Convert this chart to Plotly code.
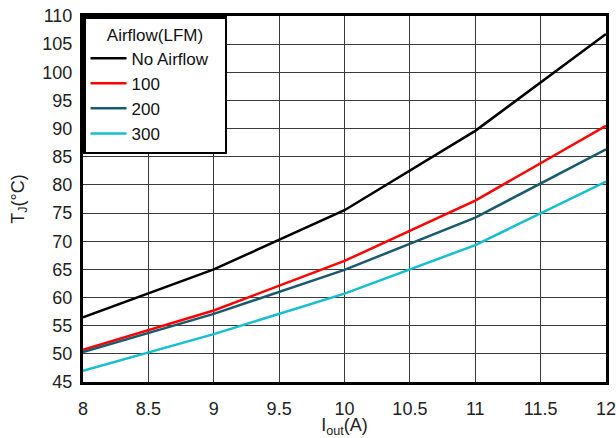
import plotly.graph_objects as go

iout = [8, 9, 10, 11, 12]
no_airflow = [56.5, 65.0, 75.5, 89.6, 106.8]
lfm100 = [50.7, 57.7, 66.5, 77.2, 90.5]
lfm200 = [50.3, 57.1, 64.9, 74.2, 86.3]
lfm300 = [47.0, 53.5, 60.7, 69.3, 80.6]

series = [
    ("No Airflow", no_airflow, "#000000"),
    ("100", lfm100, "#ff0000"),
    ("200", lfm200, "#1a5a6e"),
    ("300", lfm300, "#17becf"),
]

fig = go.Figure()
for name, ys, col in series:
    fig.add_trace(go.Scatter(x=iout, y=ys, mode="lines", name=name,
                             line=dict(color=col, width=2.5)))

font = "Liberation Sans, Arial, sans-serif"
fs = 18
lfs = 17
pad = "\u00a0" * 4
fig.update_layout(
    width=616, height=438,
    margin=dict(l=83, r=10, t=16, b=56),
    paper_bgcolor="white", plot_bgcolor="white",
    font=dict(family=font, size=fs, color="#222222"),
    showlegend=True,
    legend=dict(
        x=0, y=1, xanchor="left", yanchor="top",
        bgcolor="white", bordercolor="black", borderwidth=2.5,
        title=dict(text=pad + "Airflow(LFM)" + pad, side="top center",
                   font=dict(size=lfs, color="#111111")),
        font=dict(size=lfs, color="#111111"),
        itemwidth=36, tracegroupgap=0,
    ),
    xaxis=dict(
        range=[8, 12], dtick=0.5, tick0=8, automargin=False,
        ticklabeloverflow="allow",
        showgrid=True, gridcolor="#3a3a3a", gridwidth=1,
        showline=True, linecolor="black", linewidth=3, mirror=True,
        ticks="outside", ticklen=8, tickcolor="rgba(0,0,0,0)", zeroline=False,
        title=dict(text="I<sub>out</sub>(A)", standoff=4, font=dict(size=fs)),
        tickfont=dict(size=fs),
    ),
    yaxis=dict(
        range=[45, 110], dtick=5, tick0=45, automargin=False,
        ticklabeloverflow="allow",
        showgrid=True, gridcolor="#3a3a3a", gridwidth=1,
        showline=True, linecolor="black", linewidth=3, mirror=True,
        ticks="outside", ticklen=4, tickcolor="rgba(0,0,0,0)", zeroline=False,
        title=dict(text="T<sub>J</sub>(°C)", standoff=14, font=dict(size=fs)),
        tickfont=dict(size=fs),
    ),
)

fig.write_html("out.html")
